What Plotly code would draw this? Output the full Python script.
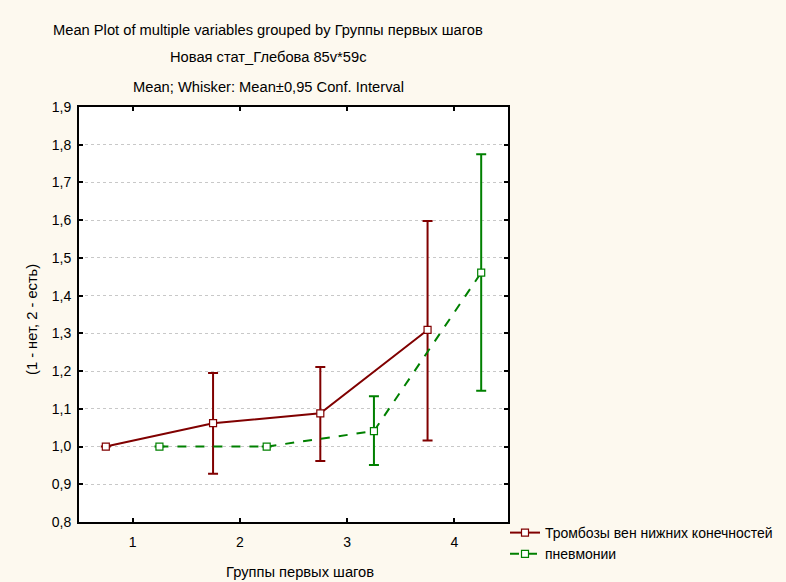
import plotly.graph_objects as go

groups = [1, 2, 3, 4]
series_names = ["Тромбозы вен нижних конечностей", "пневмонии"]
tromb_mean = [1.0, 1.062, 1.088, 1.309]
tromb_hi = [1.0, 1.195, 1.211, 1.598]
tromb_lo = [1.0, 0.928, 0.962, 1.016]
pnev_mean = [1.0, 1.0, 1.041, 1.461]
pnev_hi = [1.0, 1.0, 1.133, 1.775]
pnev_lo = [1.0, 1.0, 0.951, 1.148]
offsets = [-0.25, 0.25]
colors = ["#800000", "#008000"]
dashes = ["solid", "dash"]

FONT = "Liberation Sans, Arial, sans-serif"
FS = 14
FT = 14.7
fig = go.Figure()
for k, (m, hi, lo) in enumerate([(tromb_mean, tromb_hi, tromb_lo), (pnev_mean, pnev_hi, pnev_lo)]):
    xs = [g + offsets[k] for g in groups]
    fig.add_trace(go.Scatter(
        x=xs, y=m, name=series_names[k], mode="lines+markers",
        line=dict(color=colors[k], width=2, dash=dashes[k]),
        marker=dict(symbol="square", size=7, color="white", line=dict(color=colors[k], width=1.2)),
        error_y=dict(type="data", symmetric=False,
                     array=[h - v for h, v in zip(hi, m)],
                     arrayminus=[v - l for v, l in zip(m, lo)],
                     color=colors[k], thickness=2, width=5),
    ))

titles = ["Mean Plot of multiple variables grouped by Группы первых шагов",
          "Новая стат_Глебова 85v*59c",
          "Mean; Whisker: Mean±0,95 Conf. Interval"]
title_y = [30, 57, 87]
annotations = []
for t, yp in zip(titles, title_y):
    annotations.append(dict(text=t, xref="paper", yref="paper", x=(268 - 79) / 429,
                            y=(522 - yp) / 415, xanchor="center", yanchor="middle",
                            showarrow=False, font=dict(size=FT, color="black", family=FONT)))
annotations.append(dict(text="Группы первых шагов", xref="paper", yref="paper",
                        x=(300 - 79) / 429, y=(522 - 572) / 415, xanchor="center", yanchor="middle",
                        showarrow=False, font=dict(size=FT, color="black", family=FONT)))
annotations.append(dict(text="(1 - нет, 2 - есть)", xref="paper", yref="paper", textangle=-90,
                        x=(32 - 79) / 429, y=(522 - 320) / 415, xanchor="center", yanchor="middle",
                        showarrow=False, font=dict(size=FT, color="black", family=FONT)))

fig.update_layout(
    width=786, height=582,
    margin=dict(l=79, r=278, t=107, b=60, autoexpand=False),
    paper_bgcolor="#FDF9EF", plot_bgcolor="white",
    separators=", ",
    font=dict(family=FONT, size=FS, color="black"),
    showlegend=True,
    legend=dict(x=(505 - 79) / 429, y=(522 - 517) / 415, xanchor="left", yanchor="top",
                bgcolor="rgba(0,0,0,0)", font=dict(size=14, family=FONT), itemwidth=30,
                tracegroupgap=0),
    annotations=annotations,
    xaxis=dict(range=[0.5, 4.5], tickvals=groups, ticktext=[str(g) for g in groups],
               showgrid=False, zeroline=False, ticks="inside", ticklen=4, tickwidth=1.5,
               tickcolor="black", showline=True, linecolor="black", linewidth=2, mirror="ticks",
               ticklabelstandoff=6, tickfont=dict(size=FS)),
    yaxis=dict(range=[0.8, 1.9], dtick=0.1, tick0=0.8, tickformat=".1f",
               showgrid=True, gridcolor="#c8c8c8", griddash="dot", gridwidth=1,
               zeroline=False, ticks="inside", ticklen=4, tickwidth=1.5, tickcolor="black",
               showline=True, linecolor="black", linewidth=2, mirror="ticks",
               ticklabelstandoff=3, tickfont=dict(size=FS)),
)
fig.write_html("out.html")
